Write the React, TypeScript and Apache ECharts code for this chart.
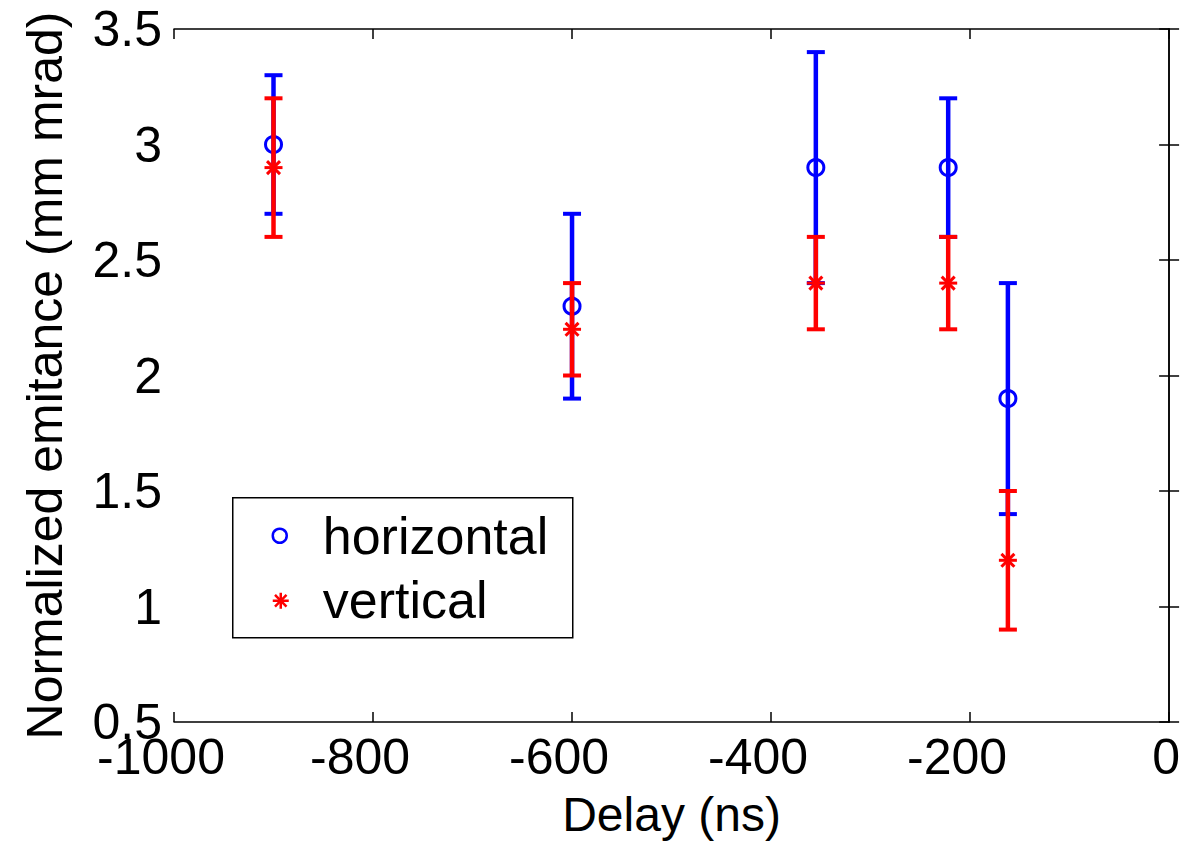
import React, { useEffect, useRef } from "react";
import * as echarts from "echarts";

// Delay (ns) of each measurement
const delays = [-900, -600, -355, -222, -162];
// horizontal normalized emittance (mm mrad): mean, lower, upper
const horizMean = [3.0, 2.3, 2.9, 2.9, 1.9];
const horizLow = [2.7, 1.9, 2.4, 2.6, 1.4];
const horizHigh = [3.3, 2.7, 3.4, 3.2, 2.4];
// vertical normalized emittance (mm mrad): mean, lower, upper
const vertMean = [2.9, 2.2, 2.4, 2.4, 1.2];
const vertLow = [2.6, 2.0, 2.2, 2.2, 0.9];
const vertHigh = [3.2, 2.4, 2.6, 2.6, 1.5];

const xTicks = { min: -1000, max: 0, interval: 200 };
const yTicks = { min: 0.5, max: 3.5, interval: 0.5 };

const FONT = "'Liberation Sans', Arial, Helvetica, sans-serif";
const BLUE = "#0000ff";
const RED = "#ff0000";

function asterisk(cx: number, cy: number, color: string, s = 9, w = 3) {
  const d = s * 0.72;
  const mk = (x1: number, y1: number, x2: number, y2: number) => ({
    type: "line",
    shape: { x1: cx + x1, y1: cy + y1, x2: cx + x2, y2: cy + y2 },
    style: { stroke: color, lineWidth: w },
  });
  return [mk(-s, 0, s, 0), mk(0, -s, 0, s), mk(-d, -d, d, d), mk(-d, d, d, -d)];
}

function makeRender(color: string, marker: "circle" | "star") {
  return (params: any, api: any) => {
    const x = api.value(0);
    const m = api.value(1);
    const lo = api.value(2);
    const hi = api.value(3);
    const pHi = api.coord([x, hi]);
    const pLo = api.coord([x, lo]);
    const pM = api.coord([x, m]);
    const cap = 9;
    const children: any[] = [
      {
        type: "line",
        shape: { x1: pHi[0], y1: pHi[1], x2: pLo[0], y2: pLo[1] },
        style: { stroke: color, lineWidth: 4.5 },
      },
      {
        type: "line",
        shape: { x1: pHi[0] - cap, y1: pHi[1], x2: pHi[0] + cap, y2: pHi[1] },
        style: { stroke: color, lineWidth: 4 },
      },
      {
        type: "line",
        shape: { x1: pLo[0] - cap, y1: pLo[1], x2: pLo[0] + cap, y2: pLo[1] },
        style: { stroke: color, lineWidth: 4 },
      },
    ];
    if (marker === "circle") {
      children.push({
        type: "circle",
        shape: { cx: pM[0], cy: pM[1], r: 8 },
        style: { fill: "none", stroke: color, lineWidth: 3 },
      });
    } else {
      children.push(...asterisk(pM[0], pM[1], color));
    }
    return { type: "group", children };
  };
}

export default function App() {
  const ref = useRef<HTMLDivElement>(null);
  useEffect(() => {
    if (!ref.current) return;
    const chart = echarts.init(ref.current, null, { renderer: "svg" });
    const hData = delays.map((d, i) => [d, horizMean[i], horizLow[i], horizHigh[i]]);
    const vData = delays.map((d, i) => [d, vertMean[i], vertLow[i], vertHigh[i]]);
    const axisLine = { show: true, lineStyle: { color: "#000", width: 1.5 } };
    const axisTick = { show: true, inside: true, length: 10, lineStyle: { color: "#000", width: 1.5 } };
    const legX = 232;
    const legY = 497;
    const tickText = { fontFamily: FONT, fontSize: 50, color: "#000", lineHeight: 30 };
    chart.setOption({
      animation: false,
      backgroundColor: "#fff",
      grid: { left: 174, right: 18, top: 29, bottom: 128, containLabel: false },
      xAxis: [
        {
          type: "value",
          position: "bottom",
          ...xTicks,
          name: "Delay (ns)",
          nameLocation: "middle",
          nameGap: 68,
          nameTextStyle: { fontFamily: FONT, fontSize: 48, color: "#000" },
          axisLine,
          axisTick,
          splitLine: { show: false },
          axisLabel: {
            margin: 20,
            formatter: (v: number) => (v < 0 ? `{neg|${String(v)}}` : `{pos|${String(v)}}`),
            rich: {
              neg: { ...tickText, padding: [0, 26, 0, 0] },
              pos: { ...tickText, padding: [0, 6, 0, 0] },
            },
            ...tickText,
          },
        },
        {
          type: "value",
          position: "top",
          ...xTicks,
          axisLine,
          axisTick,
          splitLine: { show: false },
          axisLabel: { show: false },
        },
      ],
      yAxis: [
        {
          type: "value",
          position: "left",
          ...yTicks,
          name: "Normalized emitance (mm mrad)",
          nameLocation: "middle",
          nameRotate: 90,
          nameGap: 104,
          nameTextStyle: { fontFamily: FONT, fontSize: 50, color: "#000" },
          axisLine,
          axisTick,
          splitLine: { show: false },
          axisLabel: { ...tickText, margin: 12, formatter: (v: number) => String(v) },
        },
        {
          type: "value",
          position: "right",
          ...yTicks,
          axisLine,
          axisTick,
          splitLine: { show: false },
          axisLabel: { show: false },
        },
      ],
      series: [
        {
          name: "horizontal",
          type: "custom",
          xAxisIndex: 0,
          yAxisIndex: 0,
          renderItem: makeRender(BLUE, "circle"),
          encode: { x: 0, y: [1, 2, 3] },
          data: hData,
          z: 2,
        },
        {
          name: "vertical",
          type: "custom",
          xAxisIndex: 0,
          yAxisIndex: 0,
          renderItem: makeRender(RED, "star"),
          encode: { x: 0, y: [1, 2, 3] },
          data: vData,
          z: 3,
        },
      ],
      graphic: [
        {
          type: "group",
          left: legX,
          top: legY,
          children: [
            {
              type: "rect",
              shape: { x: 0, y: 0, width: 340, height: 140 },
              style: { fill: "#fff", stroke: "#000", lineWidth: 1.5 },
            },
            {
              type: "circle",
              shape: { cx: 47, cy: 38, r: 7 },
              style: { fill: "none", stroke: BLUE, lineWidth: 2.5 },
            },
            ...asterisk(48, 103, RED, 8, 2.5),
            {
              type: "text",
              x: 90,
              y: 38,
              style: {
                text: "horizontal",
                fontFamily: FONT,
                fontSize: 52,
                fill: "#000",
                verticalAlign: "middle",
                align: "left",
              },
            },
            {
              type: "text",
              x: 90,
              y: 102,
              style: {
                text: "vertical",
                fontFamily: FONT,
                fontSize: 52,
                fill: "#000",
                verticalAlign: "middle",
                align: "left",
              },
            },
          ],
        },
      ],
    });
    return () => chart.dispose();
  }, []);
  return (
    <div
      ref={ref}
      style={{ position: "fixed", left: 0, top: 0, width: 1189, height: 850, background: "#fff" }}
    />
  );
}
